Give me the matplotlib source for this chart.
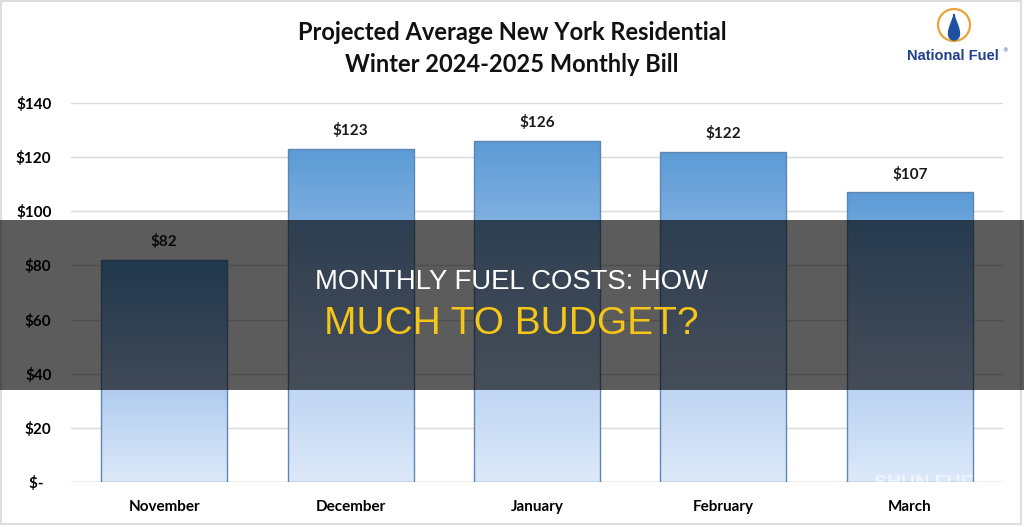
import numpy as np
import matplotlib.pyplot as plt
from matplotlib.patches import Rectangle, Circle
from matplotlib.colors import LinearSegmentedColormap

months = ["November", "December", "January", "February", "March"]
bills = [82, 123, 126, 122, 107]
yticks = [0, 20, 40, 60, 80, 100, 120, 140]
ytick_labels = ["$-  ", "$20", "$40", "$60", "$80", "$100", "$120", "$140"]
title_lines = ["Projected Average New York Residential", "Winter 2024-2025 Monthly Bill"]
overlay_line1 = "MONTHLY FUEL COSTS: HOW"
overlay_line2 = "MUCH TO BUDGET?"

W, H = 1024, 527
fig = plt.figure(figsize=(W / 100, H / 100), dpi=100)
fig.patch.set_facecolor("white")

# axes in pixel coords
x0, x1 = 71, 1003
y0, y1 = 482, 103
ax = fig.add_axes([x0 / W, 1 - y0 / H, (x1 - x0) / W, (y0 - y1) / H])
ax.set_facecolor("white")
for s in ax.spines.values():
    s.set_visible(False)
ax.set_yticks(yticks)
ax.set_yticklabels(ytick_labels, fontsize=11, fontweight="bold", fontfamily="Lato")
ax.set_xticks(range(len(months)))
ax.set_xticklabels(months, fontsize=11, fontweight="bold", fontfamily="Lato")
ax.tick_params(axis="both", length=0)
ax.tick_params(axis="y", pad=14)
ax.tick_params(axis="x", pad=13)
ax.grid(axis="y", color="#d9d9d9", linewidth=1.0)
ax.set_axisbelow(True)
ax.axhline(0, color="#d0d0d0", linewidth=1.0, zorder=1)

cmap = LinearSegmentedColormap.from_list("g", ["#dce9f9", "#a9c6ee", "#5b9bd5"])
grad = np.linspace(0, 1, 256).reshape(-1, 1)
bw = 0.676
bars = ax.bar(range(len(months)), bills, width=bw, color="none",
              edgecolor="#5f86b3", linewidth=1.0, zorder=3)
for i, (b, v) in enumerate(zip(bars, bills)):
    im = ax.imshow(grad, cmap=cmap, aspect="auto", origin="lower",
                   extent=[i - bw / 2, i + bw / 2, 0, v], zorder=2)
    im.set_clip_path(b)
    ax.text(i, v + 4, f"${v}", ha="center", va="bottom", fontsize=11,
            fontweight="bold", fontfamily="Lato", color="#1a1a1a", zorder=4)
ax.set_xlim(-0.5, len(months) - 0.5)
ax.set_ylim(0, 140)

# title
fig.text(512 / W, 1 - 32 / H, title_lines[0], ha="center", va="center",
         fontsize=17, fontweight="bold", fontfamily="Lato", color="#111111")
fig.text(512 / W, 1 - 65 / H, title_lines[1], ha="center", va="center",
         fontsize=17, fontweight="bold", fontfamily="Lato", color="#111111")

# logo
la = fig.add_axes([0, 0, 1, 1], zorder=5)
la.set_xlim(0, W)
la.set_ylim(H, 0)
la.axis("off")
la.add_patch(Circle((954, 25), 16, facecolor="white", edgecolor="#e8a33a", linewidth=1.6))
drop_t = np.linspace(0, 2 * np.pi, 100)
dx = 954 + 7 * np.sin(drop_t) * (1 - np.cos(drop_t)) / 2 * 1.2
dy = 25 + 13 * np.cos(drop_t) * -1 + 2
la.fill(dx, dy, color="#1f4fa0")
la.text(953, 56, "National Fuel", ha="center", va="center", fontsize=10.5,
        fontweight="bold", fontfamily="Liberation Sans", color="#1f3f8f")
la.text(1002, 51, "®", ha="left", va="center", fontsize=4, color="#1f3f8f")

# frame
la.add_patch(Rectangle((1, 1), W - 4, H - 4, facecolor="none", edgecolor="#dedede", linewidth=1.5))

# watermark
la.text(930, 484, "SHUN FUEL", ha="center", va="center", fontsize=14,
        fontweight="bold", color="white", alpha=0.55, fontfamily="Liberation Sans")

# overlay band
la.add_patch(Rectangle((0, 220), W, 170, facecolor="black", alpha=0.64, edgecolor="none"))
la.text(512, 282, overlay_line1, ha="center", va="center", fontsize=19.8,
        color="white", fontfamily="Liberation Sans")
la.text(511, 324, overlay_line2, ha="center", va="center", fontsize=28,
        color="#f5c518", fontfamily="Liberation Sans")

fig.savefig("out.png", dpi=100, facecolor="white")
